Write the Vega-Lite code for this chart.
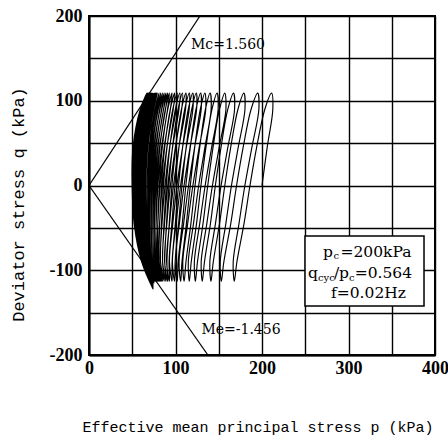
{
"$schema":"https://vega.github.io/schema/vega-lite/v6.json",
"width":346,"height":339,
"autosize":"none",
"padding":{"left":89,"top":16,"right":13,"bottom":86},
"background":"white",
"config":{
 "view":{"stroke":"#000","strokeWidth":2},
 "axis":{"grid":true,"gridColor":"#000","gridWidth":1.4,"gridOpacity":1,"domainColor":"#000","domainWidth":2,"ticks":false,"labelFlush":false,"labelOverlap":false,
  "labelFont":"Liberation Serif","labelFontWeight":"bold","labelFontSize":18,"labelColor":"#000",
  "titleColor":"#000","titleFontWeight":"normal","titleFont":"Liberation Mono"}
},
"encoding":{
 "x":{"field":"p","type":"quantitative","scale":{"domain":[0,400],"nice":false,"zero":false},
   "axis":{"values":[0,50,100,150,200,250,300,350,400],"labelExpr":"datum.value % 100 === 0 ? '' + datum.value : ''","labelPadding":4,
     "title":"Effective mean principal stress p (kPa)","titleFontSize":15,"titleX":168.5,"titleY":71,"titleBaseline":"middle","titleAlign":"center"}},
 "y":{"field":"q","type":"quantitative","scale":{"domain":[-200,200],"nice":false,"zero":false},
   "axis":{"values":[-200,-150,-100,-50,0,50,100,150,200],"labelExpr":"datum.value % 100 === 0 ? '' + datum.value : ''","labelPadding":7,
     "title":"Deviator stress q (kPa)","titleFontSize":17,"titleX":-71,"titleY":188,"titleAngle":-90,"titleBaseline":"middle","titleAlign":"center"}}
},
"layer":[
 {
  "data":{"values":[{"p":249.7,"p2":387.3,"q":-59.6,"q2":-142.2}]},
  "mark":{"type":"rect","fill":"white","stroke":"#000","strokeWidth":1.5},
  "encoding":{"x2":{"field":"p2"},"y2":{"field":"q2"}}
 },
 {
  "data":{"values":[{"m":"Mc","p":0,"q":0},{"m":"Mc","p":128.2,"q":200},{"m":"Me","p":0,"q":0},{"m":"Me","p":137.4,"q":-200}]},
  "mark":{"type":"line","color":"#000","strokeWidth":1.3},
  "encoding":{"detail":{"field":"m"}}
 },
 {
  "data":{"values":[
{"i":0,"p":200,"q":0},{"i":1,"p":206,"q":45},{"i":2,"p":212.5,"q":90},{"i":3,"p":211,"q":109},
{"i":4,"p":203.3,"q":90},{"i":5,"p":193.8,"q":45},{"i":6,"p":186.1,"q":0},{"i":7,"p":179.2,"q":-45},{"i":8,"p":171,"q":-90},{"i":9,"p":168,"q":-113},
{"i":10,"p":166.7,"q":-90},{"i":11,"p":173.4,"q":-45},{"i":12,"p":180.2,"q":0},{"i":13,"p":188.3,"q":45},{"i":14,"p":196.4,"q":90},{"i":15,"p":195,"q":109},
{"i":16,"p":187.4,"q":90},{"i":17,"p":178.2,"q":45},{"i":18,"p":170.6,"q":0},{"i":19,"p":163.9,"q":-45},{"i":20,"p":155.9,"q":-90},{"i":21,"p":153,"q":-113},
{"i":22,"p":151.7,"q":-90},{"i":23,"p":158.2,"q":-45},{"i":24,"p":164.7,"q":0},{"i":25,"p":172.5,"q":45},{"i":26,"p":180.3,"q":90},{"i":27,"p":179,"q":109},
{"i":28,"p":172.2,"q":90},{"i":29,"p":163.8,"q":45},{"i":30,"p":157,"q":0},{"i":31,"p":150.9,"q":-45},{"i":32,"p":143.7,"q":-90},{"i":33,"p":141,"q":-113},
{"i":34,"p":139.7,"q":-90},{"i":35,"p":146.2,"q":-45},{"i":36,"p":152.7,"q":0},{"i":37,"p":160.5,"q":45},{"i":38,"p":168.3,"q":90},{"i":39,"p":167,"q":109},
{"i":40,"p":160.5,"q":90},{"i":41,"p":152.6,"q":45},{"i":42,"p":146.1,"q":0},{"i":43,"p":140.4,"q":-45},{"i":44,"p":133.5,"q":-90},{"i":45,"p":131,"q":-113},
{"i":46,"p":129.7,"q":-90},{"i":47,"p":136.2,"q":-45},{"i":48,"p":142.7,"q":0},{"i":49,"p":150.5,"q":45},{"i":50,"p":158.3,"q":90},{"i":51,"p":157,"q":109},
{"i":52,"p":150.9,"q":90},{"i":53,"p":143.4,"q":45},{"i":54,"p":137.3,"q":0},{"i":55,"p":131.8,"q":-45},{"i":56,"p":125.4,"q":-90},{"i":57,"p":123,"q":-113},
{"i":58,"p":121.8,"q":-90},{"i":59,"p":128,"q":-45},{"i":60,"p":134.3,"q":0},{"i":61,"p":141.8,"q":45},{"i":62,"p":149.3,"q":90},{"i":63,"p":148,"q":109},
{"i":64,"p":142.2,"q":90},{"i":65,"p":135.2,"q":45},{"i":66,"p":129.4,"q":0},{"i":67,"p":124.3,"q":-45},{"i":68,"p":118.2,"q":-90},{"i":69,"p":116,"q":-113},
{"i":70,"p":114.8,"q":-90},{"i":71,"p":120.8,"q":-45},{"i":72,"p":126.8,"q":0},{"i":73,"p":134,"q":45},{"i":74,"p":141.2,"q":90},{"i":75,"p":140,"q":109},
{"i":76,"p":134.6,"q":90},{"i":77,"p":128,"q":45},{"i":78,"p":122.6,"q":0},{"i":79,"p":117.8,"q":-45},{"i":80,"p":112.1,"q":-90},{"i":81,"p":110,"q":-113},
{"i":82,"p":108.4,"q":-90},{"i":83,"p":114.1,"q":-45},{"i":84,"p":120.1,"q":0},{"i":85,"p":127.4,"q":45},{"i":86,"p":135,"q":90},{"i":87,"p":134,"q":109},
{"i":88,"p":128.7,"q":90},{"i":89,"p":122.2,"q":45},{"i":90,"p":117.1,"q":0},{"i":91,"p":112.6,"q":-45},{"i":92,"p":107.5,"q":-90},{"i":93,"p":106,"q":-113},
{"i":94,"p":104.1,"q":-90},{"i":95,"p":109.4,"q":-45},{"i":96,"p":115.1,"q":0},{"i":97,"p":122.1,"q":45},{"i":98,"p":129.7,"q":90},{"i":99,"p":129,"q":109},
{"i":100,"p":123.7,"q":90},{"i":101,"p":117.1,"q":45},{"i":102,"p":112,"q":0},{"i":103,"p":107.8,"q":-45},{"i":104,"p":103.1,"q":-90},{"i":105,"p":102,"q":-113},
{"i":106,"p":99.7,"q":-90},{"i":107,"p":104.5,"q":-45},{"i":108,"p":109.9,"q":0},{"i":109,"p":116.8,"q":45},{"i":110,"p":124.4,"q":90},{"i":111,"p":124,"q":109},
{"i":112,"p":118.8,"q":90},{"i":113,"p":112.3,"q":45},{"i":114,"p":107.5,"q":0},{"i":115,"p":103.6,"q":-45},{"i":116,"p":99.6,"q":-90},{"i":117,"p":99,"q":-113},
{"i":118,"p":96.4,"q":-90},{"i":119,"p":100.7,"q":-45},{"i":120,"p":105.9,"q":0},{"i":121,"p":112.5,"q":45},{"i":122,"p":120.1,"q":90},{"i":123,"p":120,"q":109},
{"i":124,"p":114.8,"q":90},{"i":125,"p":108.2,"q":45},{"i":126,"p":103.5,"q":0},{"i":127,"p":99.8,"q":-45},{"i":128,"p":96.1,"q":-90},{"i":129,"p":96,"q":-113},
{"i":130,"p":93,"q":-90},{"i":131,"p":96.9,"q":-45},{"i":132,"p":101.7,"q":0},{"i":133,"p":108.2,"q":45},{"i":134,"p":115.8,"q":90},{"i":135,"p":116,"q":109},
{"i":136,"p":110.7,"q":90},{"i":137,"p":104,"q":45},{"i":138,"p":99.4,"q":0},{"i":139,"p":95.8,"q":-45},{"i":140,"p":92.6,"q":-90},{"i":141,"p":93,"q":-113},
{"i":142,"p":89.7,"q":-90},{"i":143,"p":93.1,"q":-45},{"i":144,"p":97.7,"q":0},{"i":145,"p":103.9,"q":45},{"i":146,"p":111.6,"q":90},{"i":147,"p":112,"q":109},
{"i":148,"p":106.9,"q":90},{"i":149,"p":100.3,"q":45},{"i":150,"p":95.9,"q":0},{"i":151,"p":92.8,"q":-45},{"i":152,"p":90.1,"q":-90},{"i":153,"p":91,"q":-113},
{"i":154,"p":87.4,"q":-90},{"i":155,"p":90,"q":-45},{"i":156,"p":94.1,"q":0},{"i":157,"p":99.8,"q":45},{"i":158,"p":107.2,"q":90},{"i":159,"p":108,"q":109},
{"i":160,"p":103,"q":90},{"i":161,"p":96.5,"q":45},{"i":162,"p":92.4,"q":0},{"i":163,"p":89.6,"q":-45},{"i":164,"p":87.6,"q":-90},{"i":165,"p":89,"q":-113},
{"i":166,"p":85.1,"q":-90},{"i":167,"p":87.3,"q":-45},{"i":168,"p":91,"q":0},{"i":169,"p":96.6,"q":45},{"i":170,"p":104,"q":90},{"i":171,"p":105,"q":109},
{"i":172,"p":99.9,"q":90},{"i":173,"p":93.4,"q":45},{"i":174,"p":89.4,"q":0},{"i":175,"p":86.7,"q":-45},{"i":176,"p":85.1,"q":-90},{"i":177,"p":87,"q":-113},
{"i":178,"p":82.7,"q":-90},{"i":179,"p":84.4,"q":-45},{"i":180,"p":87.9,"q":0},{"i":181,"p":93.2,"q":45},{"i":182,"p":100.7,"q":90},{"i":183,"p":102,"q":109},
{"i":184,"p":96.9,"q":90},{"i":185,"p":90.2,"q":45},{"i":186,"p":86.2,"q":0},{"i":187,"p":83.8,"q":-45},{"i":188,"p":82.7,"q":-90},{"i":189,"p":85,"q":-113},
{"i":190,"p":80.4,"q":-90},{"i":191,"p":81.6,"q":-45},{"i":192,"p":84.8,"q":0},{"i":193,"p":90,"q":45},{"i":194,"p":97.4,"q":90},{"i":195,"p":99,"q":109},
{"i":196,"p":94,"q":90},{"i":197,"p":87.5,"q":45},{"i":198,"p":83.8,"q":0},{"i":199,"p":81.7,"q":-45},{"i":200,"p":81.2,"q":-90},{"i":201,"p":84,"q":-113},
{"i":202,"p":79.1,"q":-90},{"i":203,"p":79.6,"q":-45},{"i":204,"p":82.2,"q":0},{"i":205,"p":86.9,"q":45},{"i":206,"p":94.1,"q":90},{"i":207,"p":96,"q":109},
{"i":208,"p":91.1,"q":90},{"i":209,"p":84.7,"q":45},{"i":210,"p":81.3,"q":0},{"i":211,"p":79.5,"q":-45},{"i":212,"p":79.6,"q":-90},{"i":213,"p":83,"q":-113},
{"i":214,"p":77.8,"q":-90},{"i":215,"p":77.6,"q":-45},{"i":216,"p":79.7,"q":0},{"i":217,"p":83.9,"q":45},{"i":218,"p":90.8,"q":90},{"i":219,"p":93,"q":109},
{"i":220,"p":88.3,"q":90},{"i":221,"p":82,"q":45},{"i":222,"p":78.8,"q":0},{"i":223,"p":77.5,"q":-45},{"i":224,"p":78.1,"q":-90},{"i":225,"p":82,"q":-113},
{"i":226,"p":76.5,"q":-90},{"i":227,"p":75.7,"q":-45},{"i":228,"p":77.6,"q":0},{"i":229,"p":81.5,"q":45},{"i":230,"p":88.5,"q":90},{"i":231,"p":91,"q":109},
{"i":232,"p":86.2,"q":90},{"i":233,"p":79.8,"q":45},{"i":234,"p":76.7,"q":0},{"i":235,"p":75.5,"q":-45},{"i":236,"p":76.6,"q":-90},{"i":237,"p":81,"q":-113},
{"i":238,"p":75.1,"q":-90},{"i":239,"p":74,"q":-45},{"i":240,"p":75.5,"q":0},{"i":241,"p":79.3,"q":45},{"i":242,"p":86.2,"q":90},{"i":243,"p":89,"q":109},
{"i":244,"p":84.2,"q":90},{"i":245,"p":77.7,"q":45},{"i":246,"p":74.7,"q":0},{"i":247,"p":73.7,"q":-45},{"i":248,"p":75.2,"q":-90},{"i":249,"p":80,"q":-113},
{"i":250,"p":73.8,"q":-90},{"i":251,"p":72.1,"q":-45},{"i":252,"p":73.4,"q":0},{"i":253,"p":76.9,"q":45},{"i":254,"p":83.9,"q":90},{"i":255,"p":87,"q":109},
{"i":256,"p":82.1,"q":90},{"i":257,"p":75.5,"q":45},{"i":258,"p":72.6,"q":0},{"i":259,"p":71.8,"q":-45},{"i":260,"p":73.7,"q":-90},{"i":261,"p":79,"q":-113},
{"i":262,"p":72.5,"q":-90},{"i":263,"p":70.3,"q":-45},{"i":264,"p":71.3,"q":0},{"i":265,"p":74.7,"q":45},{"i":266,"p":81.7,"q":90},{"i":267,"p":85,"q":109},
{"i":268,"p":80.1,"q":90},{"i":269,"p":73.4,"q":45},{"i":270,"p":70.5,"q":0},{"i":271,"p":69.9,"q":-45},{"i":272,"p":72.3,"q":-90},{"i":273,"p":78,"q":-113},
{"i":274,"p":71.2,"q":-90},{"i":275,"p":68.6,"q":-45},{"i":276,"p":69.3,"q":0},{"i":277,"p":72.4,"q":45},{"i":278,"p":79.4,"q":90},{"i":279,"p":83,"q":109},
{"i":280,"p":78.1,"q":90},{"i":281,"p":71.3,"q":45},{"i":282,"p":68.5,"q":0},{"i":283,"p":68.1,"q":-45},{"i":284,"p":70.8,"q":-90},{"i":285,"p":77,"q":-113},
{"i":286,"p":69.8,"q":-90},{"i":287,"p":66.7,"q":-45},{"i":288,"p":67.1,"q":0},{"i":289,"p":70.1,"q":45},{"i":290,"p":77.1,"q":90},{"i":291,"p":81,"q":109},
{"i":292,"p":76.2,"q":90},{"i":293,"p":69.5,"q":45},{"i":294,"p":67,"q":0},{"i":295,"p":66.9,"q":-45},{"i":296,"p":70.3,"q":-90},{"i":297,"p":77,"q":-113},
{"i":298,"p":69.5,"q":-90},{"i":299,"p":65.6,"q":-45},{"i":300,"p":65.5,"q":0},{"i":301,"p":68,"q":45},{"i":302,"p":74.8,"q":90},{"i":303,"p":79,"q":109},
{"i":304,"p":74.1,"q":90},{"i":305,"p":67.3,"q":45},{"i":306,"p":64.9,"q":0},{"i":307,"p":65,"q":-45},{"i":308,"p":68.8,"q":-90},{"i":309,"p":76,"q":-113},
{"i":310,"p":68.1,"q":-90},{"i":311,"p":64.1,"q":-45},{"i":312,"p":63.9,"q":0},{"i":313,"p":66.5,"q":45},{"i":314,"p":73.6,"q":90},{"i":315,"p":78,"q":109},
{"i":316,"p":73.1,"q":90},{"i":317,"p":66.2,"q":45},{"i":318,"p":63.8,"q":0},{"i":319,"p":64.2,"q":-45},{"i":320,"p":68.3,"q":-90},{"i":321,"p":76,"q":-113},
{"i":322,"p":67.7,"q":-90},{"i":323,"p":63.2,"q":-45},{"i":324,"p":62.8,"q":0},{"i":325,"p":65.1,"q":45},{"i":326,"p":72.3,"q":90},{"i":327,"p":77,"q":109},
{"i":328,"p":71.8,"q":90},{"i":329,"p":64.6,"q":45},{"i":330,"p":62.1,"q":0},{"i":331,"p":62.5,"q":-45},{"i":332,"p":66.9,"q":-90},{"i":333,"p":75,"q":-114},
{"i":334,"p":66.4,"q":-90},{"i":335,"p":61.6,"q":-45},{"i":336,"p":61.2,"q":0},{"i":337,"p":63.6,"q":45},{"i":338,"p":71,"q":90},{"i":339,"p":76,"q":109},
{"i":340,"p":70.8,"q":90},{"i":341,"p":63.4,"q":45},{"i":342,"p":61.1,"q":0},{"i":343,"p":61.7,"q":-45},{"i":344,"p":66.5,"q":-90},{"i":345,"p":75,"q":-114},
{"i":346,"p":66,"q":-90},{"i":347,"p":60.8,"q":-45},{"i":348,"p":60,"q":0},{"i":349,"p":62.3,"q":45},{"i":350,"p":69.8,"q":90},{"i":351,"p":75,"q":109},
{"i":352,"p":69.8,"q":90},{"i":353,"p":62.3,"q":45},{"i":354,"p":60,"q":0},{"i":355,"p":60.8,"q":-45},{"i":356,"p":66,"q":-90},{"i":357,"p":75,"q":-115},
{"i":358,"p":65.7,"q":-90},{"i":359,"p":60,"q":-45},{"i":360,"p":59,"q":0},{"i":361,"p":61,"q":45},{"i":362,"p":68.5,"q":90},{"i":363,"p":74,"q":109},
{"i":364,"p":68.5,"q":90},{"i":365,"p":60.7,"q":45},{"i":366,"p":58.4,"q":0},{"i":367,"p":59.2,"q":-45},{"i":368,"p":64.6,"q":-90},{"i":369,"p":74,"q":-115},
{"i":370,"p":64.3,"q":-90},{"i":371,"p":58.3,"q":-45},{"i":372,"p":57.3,"q":0},{"i":373,"p":59.4,"q":45},{"i":374,"p":67.2,"q":90},{"i":375,"p":73,"q":109},
{"i":376,"p":67.5,"q":90},{"i":377,"p":59.5,"q":45},{"i":378,"p":57.3,"q":0},{"i":379,"p":58.3,"q":-45},{"i":380,"p":64.2,"q":-90},{"i":381,"p":74,"q":-116},
{"i":382,"p":64,"q":-90},{"i":383,"p":57.5,"q":-45},{"i":384,"p":56.2,"q":0},{"i":385,"p":58.1,"q":45},{"i":386,"p":66,"q":90},{"i":387,"p":72,"q":109},
{"i":388,"p":66.4,"q":90},{"i":389,"p":58.4,"q":45},{"i":390,"p":56.3,"q":0},{"i":391,"p":57.4,"q":-45},{"i":392,"p":63.7,"q":-90},{"i":393,"p":74,"q":-117},
{"i":394,"p":63.6,"q":-90},{"i":395,"p":56.7,"q":-45},{"i":396,"p":55.1,"q":0},{"i":397,"p":56.8,"q":45},{"i":398,"p":64.7,"q":90},{"i":399,"p":71,"q":109},
{"i":400,"p":65.4,"q":90},{"i":401,"p":57.2,"q":45},{"i":402,"p":55.1,"q":0},{"i":403,"p":56.5,"q":-45},{"i":404,"p":63.2,"q":-90},{"i":405,"p":74,"q":-118},
{"i":406,"p":63.3,"q":-90},{"i":407,"p":55.9,"q":-45},{"i":408,"p":54,"q":0},{"i":409,"p":55.5,"q":45},{"i":410,"p":63.4,"q":90},{"i":411,"p":70,"q":109},
{"i":412,"p":64.4,"q":90},{"i":413,"p":56.1,"q":45},{"i":414,"p":54.1,"q":0},{"i":415,"p":55.7,"q":-45},{"i":416,"p":62.8,"q":-90},{"i":417,"p":74,"q":-119},
{"i":418,"p":62.9,"q":-90},{"i":419,"p":55,"q":-45},{"i":420,"p":52.9,"q":0},{"i":421,"p":54.2,"q":45},{"i":422,"p":62.1,"q":90},{"i":423,"p":69,"q":109},
{"i":424,"p":63.3,"q":90},{"i":425,"p":54.9,"q":45},{"i":426,"p":53,"q":0},{"i":427,"p":54.7,"q":-45},{"i":428,"p":62.3,"q":-90},{"i":429,"p":74,"q":-120},
{"i":430,"p":62.6,"q":-90},{"i":431,"p":54.3,"q":-45},{"i":432,"p":51.8,"q":0},{"i":433,"p":52.9,"q":45},{"i":434,"p":60.9,"q":90},{"i":435,"p":68,"q":109},
{"i":436,"p":62.3,"q":90},{"i":437,"p":53.8,"q":45},{"i":438,"p":52,"q":0},{"i":439,"p":53.9,"q":-45},{"i":440,"p":61.9,"q":-90},{"i":441,"p":74,"q":-121},
{"i":442,"p":62.3,"q":-90},{"i":443,"p":53.8,"q":-45},{"i":444,"p":51.3,"q":0},{"i":445,"p":52.5,"q":45},{"i":446,"p":60.7,"q":90},{"i":447,"p":68,"q":109},
{"i":448,"p":62.1,"q":90},{"i":449,"p":53.4,"q":45},{"i":450,"p":51.5,"q":0},{"i":451,"p":53.4,"q":-45},{"i":452,"p":61.6,"q":-90},{"i":453,"p":74,"q":-122},
{"i":454,"p":62,"q":-90},{"i":455,"p":53.1,"q":-45},{"i":456,"p":50.4,"q":0},{"i":457,"p":51.3,"q":45},{"i":458,"p":59.5,"q":90},{"i":459,"p":67,"q":109},
{"i":460,"p":61.1,"q":90},{"i":461,"p":52.4,"q":45},{"i":462,"p":50.6,"q":0},{"i":463,"p":52.7,"q":-45},{"i":464,"p":61.2,"q":-90},{"i":465,"p":74,"q":-122},
{"i":466,"p":61.8,"q":-90},{"i":467,"p":52.7,"q":-45},{"i":468,"p":49.9,"q":0},{"i":469,"p":50.9,"q":45},{"i":470,"p":59.3,"q":90},{"i":471,"p":67,"q":109},
{"i":472,"p":60.9,"q":90},{"i":473,"p":52,"q":45},{"i":474,"p":50.1,"q":0},{"i":475,"p":52.2,"q":-45},{"i":476,"p":60.9,"q":-90},{"i":477,"p":74,"q":-122}
  ]},
  "mark":{"type":"line","color":"#000","strokeWidth":1.15,"interpolate":"catmull-rom"},
  "encoding":{"order":{"field":"i","type":"quantitative"}}
 },
 {
  "data":{"values":[{"t":"Mc=1.560","p":160.7,"q":165.8},{"t":"Me=-1.456","p":175.7,"q":-170.5}]},
  "mark":{"type":"text","font":"DejaVu Serif","fontSize":14,"color":"#000","align":"center","baseline":"middle"},
  "encoding":{"text":{"field":"t"}}
 },
 {
  "data":{"values":[
   {"t":"p","p":270.5,"q":-84.7},{"t":"=200kPa","p":290.7,"q":-84.7},
   {"t":"q","p":253.2,"q":-109.5},{"t":"/","p":283.2,"q":-109.5},{"t":"p","p":289,"q":-109.5},{"t":"=0.564","p":307.1,"q":-109.5},
   {"t":"f=0.02Hz","p":279.8,"q":-133.1}
  ]},
  "mark":{"type":"text","font":"DejaVu Serif","fontSize":15.5,"color":"#000","align":"left","baseline":"alphabetic"},
  "encoding":{"text":{"field":"t"}}
 },
 {
  "data":{"values":[
   {"t":"c","p":282.6,"q":-87.3},{"t":"cyc","p":264.7,"q":-112.1},{"t":"c","p":300.6,"q":-112.1}
  ]},
  "mark":{"type":"text","font":"DejaVu Serif","fontSize":10,"color":"#000","align":"left","baseline":"alphabetic"},
  "encoding":{"text":{"field":"t"}}
 }
]
}
